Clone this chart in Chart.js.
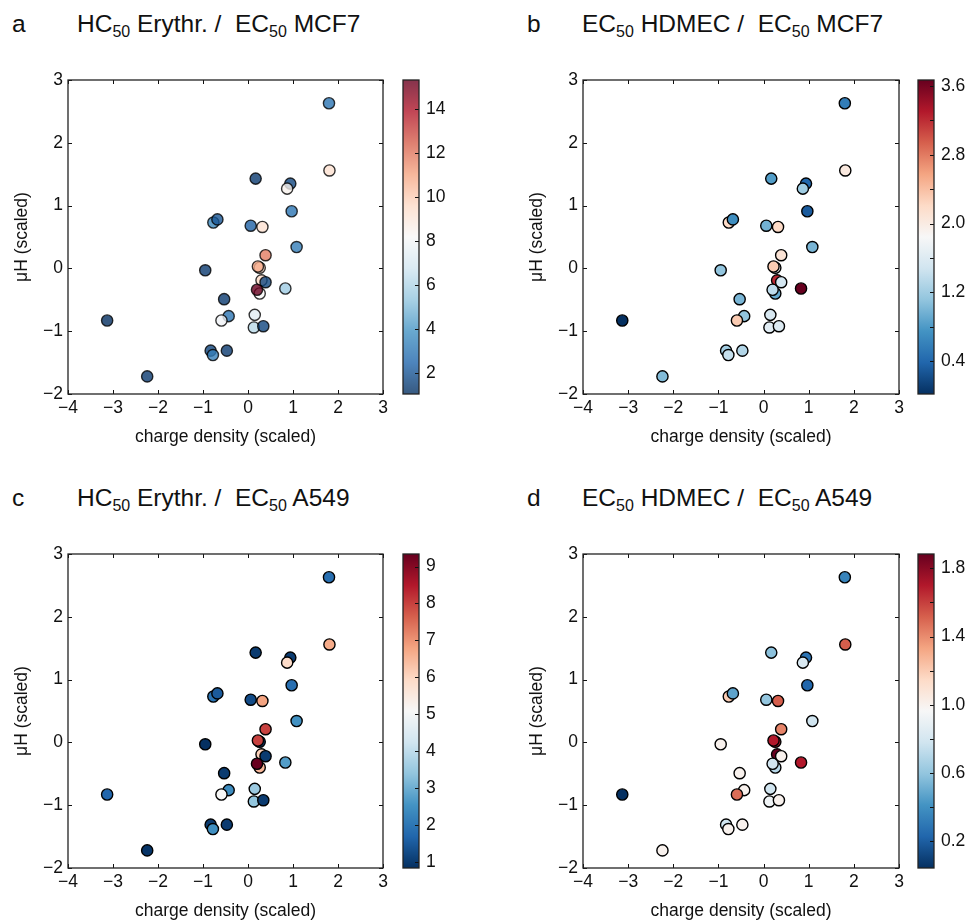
<!DOCTYPE html>
<html><head><meta charset="utf-8">
<script src="https://cdn.jsdelivr.net/npm/chart.js@4.4.1/dist/chart.umd.min.js"></script>
<style>
body{margin:0;background:#fff;width:971px;height:924px;position:relative;overflow:hidden;font-family:"Liberation Sans",Arial,sans-serif;color:#111}
canvas{position:absolute}
.t{position:absolute;font-size:24.5px;line-height:24px;white-space:pre}
.s{font-size:16px;position:relative;top:5px}
</style></head><body>
<div class="t" style="left:12px;top:12px">a</div>
<div class="t" style="left:77px;top:12px">HC<span class="s">50</span> Erythr. /  EC<span class="s">50</span> MCF7</div>
<div class="t" style="left:527px;top:12px">b</div>
<div class="t" style="left:582px;top:12px">EC<span class="s">50</span> HDMEC /  EC<span class="s">50</span> MCF7</div>
<div class="t" style="left:12px;top:486px">c</div>
<div class="t" style="left:77px;top:486px">HC<span class="s">50</span> Erythr. /  EC<span class="s">50</span> A549</div>
<div class="t" style="left:527px;top:486px">d</div>
<div class="t" style="left:582px;top:486px">EC<span class="s">50</span> HDMEC /  EC<span class="s">50</span> A549</div>

<canvas id="pa" width="400" height="400" style="left:0px;top:60px"></canvas>
<canvas id="ca" width="75" height="400" style="left:395px;top:60px"></canvas>
<canvas id="pb" width="400" height="400" style="left:515px;top:60px"></canvas>
<canvas id="cb" width="61" height="400" style="left:910px;top:60px"></canvas>
<canvas id="pc" width="400" height="400" style="left:0px;top:534px"></canvas>
<canvas id="cc" width="75" height="400" style="left:395px;top:534px"></canvas>
<canvas id="pd" width="400" height="400" style="left:515px;top:534px"></canvas>
<canvas id="cd" width="61" height="400" style="left:910px;top:534px"></canvas>

<script>
// ---- data ----
const xVals = [1.80, 1.81, 0.17, 0.94, 0.87, 0.97, -0.77, -0.68, 0.06, 0.32, 1.08, 0.39, 0.26, 0.22, -0.95, 0.30, 0.39, 0.83, 0.26, 0.20, -0.53, -0.43, -0.59, 0.15, 0.13, 0.34, -3.13, -0.83, -0.78, -0.47, -2.24];
const yVals = [2.63, 1.56, 1.43, 1.35, 1.27, 0.91, 0.73, 0.78, 0.68, 0.66, 0.34, 0.21, 0.01, 0.03, -0.03, -0.19, -0.22, -0.32, -0.40, -0.34, -0.49, -0.76, -0.83, -0.74, -0.94, -0.92, -0.83, -1.31, -1.38, -1.31, -1.72];
// HC50 Erythr. / EC50 MCF7
const ratioA = [2.9, 9.3, 1.3, 1.6, 8.5, 2.9, 3.5, 2.0, 2.3, 9.3, 3.2, 11.9, 9.6, 10.9, 1.3, 9.6, 1.6, 5.6, 8.2, 15.33, 1.3, 2.9, 7.9, 7.3, 6.2, 1.6, 1.03, 1.5, 3.3, 1.3, 1.3];
// EC50 HDMEC / EC50 MCF7
const ratioB = [0.57, 2.03, 0.82, 0.39, 1.19, 0.31, 2.21, 0.71, 0.97, 2.21, 1.00, 2.10, 1.85, 2.32, 1.12, 3.23, 1.52, 3.67, 0.90, 1.37, 1.00, 1.12, 2.32, 1.55, 1.63, 1.59, 0.02, 1.22, 1.41, 1.30, 1.04];
// HC50 Erythr. / EC50 A549
const ratioC = [1.85, 6.7, 1.0, 1.0, 5.9, 1.85, 1.94, 1.5, 1.26, 6.8, 2.5, 8.0, 1.0, 8.0, 0.83, 6.1, 1.0, 2.7, 6.5, 9.34, 1.0, 2.4, 5.1, 3.5, 3.4, 1.0, 1.7, 1.0, 2.45, 1.0, 0.9];
// EC50 HDMEC / EC50 A549
const ratioD = [0.35, 1.52, 0.58, 0.28, 0.82, 0.23, 1.20, 0.47, 0.60, 1.52, 0.78, 1.42, 1.70, 1.70, 1.00, 1.884, 1.00, 1.70, 0.70, 0.78, 1.00, 1.00, 1.48, 0.78, 0.93, 1.00, 0.042, 0.78, 1.00, 1.00, 1.00];

const xTicks = [-4, -3, -2, -1, 0, 1, 2, 3];
const yTicks = [-2, -1, 0, 1, 2, 3];
const rangeA = [1.03, 15.33], rangeB = [0.02, 3.67], rangeC = [0.83, 9.34], rangeD = [0.042, 1.884];
const cbTicksA = [2, 4, 6, 8, 10, 12, 14], cbLabelsA = [2, 4, 6, 8, 10, 12, 14];
const cbTicksB = [0.4, 0.8, 1.2, 1.6, 2.0, 2.4, 2.8, 3.2, 3.6], cbLabelsB = [0.4, 1.2, 2.0, 2.8, 3.6];
const cbTicksC = [1, 2, 3, 4, 5, 6, 7, 8, 9], cbLabelsC = [1, 2, 3, 4, 5, 6, 7, 8, 9];
const cbTicksD = [0.2, 0.4, 0.6, 0.8, 1.0, 1.2, 1.4, 1.6, 1.8], cbLabelsD = [0.2, 0.6, 1.0, 1.4, 1.8];

// ---- colormap (RdBu_r) ----
const RdBu_r = ['#053061','#2166ac','#4393c3','#92c5de','#d1e5f0','#f7f7f7','#fddbc7','#f4a582','#d6604d','#b2182b','#67001f'];
const stops = RdBu_r.map(h => [parseInt(h.slice(1,3),16), parseInt(h.slice(3,5),16), parseInt(h.slice(5,7),16)]);
function cmap(t, a) {
  t = Math.max(0, Math.min(1, t));
  const p = t * 10, i = Math.min(9, Math.floor(p)), f = p - i;
  const c = stops[i].map((v, k) => Math.round(v + (stops[i+1][k] - v) * f));
  return `rgba(${c[0]},${c[1]},${c[2]},${a})`;
}

const FONT = '"Liberation Sans", Arial, sans-serif';
const TXT = '#111';
const FS = 17.5;
const fmt = v => v < 0 ? '\u2212' + Math.abs(v) : String(v);

const framePlugin = {
  id: 'frame',
  afterDraw(chart) {
    const {ctx, chartArea: ca, scales: {x, y}} = chart;
    ctx.save();
    ctx.strokeStyle = '#111';
    ctx.lineWidth = 1;
    ctx.beginPath();
    x.ticks.forEach(t => {
      const px = Math.round(x.getPixelForValue(t.value)) + 0.5;
      ctx.moveTo(px, ca.bottom); ctx.lineTo(px, ca.bottom - 4);
      ctx.moveTo(px, ca.top); ctx.lineTo(px, ca.top + 4);
    });
    y.ticks.forEach(t => {
      const py = Math.round(y.getPixelForValue(t.value)) + 0.5;
      ctx.moveTo(ca.left, py); ctx.lineTo(ca.left + 4, py);
      ctx.moveTo(ca.right, py); ctx.lineTo(ca.right - 4, py);
    });
    ctx.stroke();
    ctx.lineWidth = 1.3;
    ctx.strokeStyle = '#222';
    ctx.strokeRect(ca.left, ca.top, ca.right - ca.left, ca.bottom - ca.top);
    ctx.restore();
  }
};

function makeScatter(id, vals, range, alpha, padRight) {
  new Chart(document.getElementById(id), {
    type: 'scatter',
    data: { datasets: [{
      data: xVals.map((x, i) => ({x, y: yVals[i]})),
      backgroundColor: vals.map(v => cmap((v - range[0]) / (range[1] - range[0]), alpha)),
      borderColor: `rgba(0,0,0,${alpha})`,
      borderWidth: 1.4, pointRadius: 5.6, pointHoverRadius: 5.6
    }]},
    options: {
      responsive: false, animation: false, devicePixelRatio: 1,
      layout: { padding: { left: 12, top: 20, right: padRight, bottom: 12 } },
      plugins: { legend: { display: false }, tooltip: { enabled: false } },
      scales: {
        x: {
          type: 'linear', min: -4, max: 3,
          afterBuildTicks(s) { s.ticks = xTicks.map(v => ({value: v})); },
          ticks: { color: TXT, font: { size: FS, family: FONT }, padding: 4, maxRotation: 0, autoSkip: false, callback: fmt },
          grid: { display: false, drawTicks: false }, border: { display: false },
          title: { display: true, text: 'charge density (scaled)', color: TXT, font: { size: FS, family: FONT }, padding: 0 },
          afterFit(s) { s.height = 54; }
        },
        y: {
          type: 'linear', min: -2, max: 3,
          afterBuildTicks(s) { s.ticks = yTicks.map(v => ({value: v})); },
          ticks: { color: TXT, font: { size: FS, family: FONT }, padding: 5, autoSkip: false, callback: fmt },
          grid: { display: false, drawTicks: false }, border: { display: false },
          title: { display: true, text: 'μH (scaled)', color: TXT, font: { size: FS, family: FONT }, padding: 0 },
          afterFit(s) { s.width = 56; }
        }
      }
    },
    plugins: [framePlugin]
  });
}

const cbarPlugin = {
  id: 'cbar',
  beforeDatasetsDraw(chart, args, opts) {
    const {ctx, chartArea: ca, scales: {y}} = chart;
    const g = ctx.createLinearGradient(0, y.getPixelForValue(opts.range[0]), 0, y.getPixelForValue(opts.range[1]));
    RdBu_r.forEach((c, i) => g.addColorStop(i / 10, c));
    ctx.save();
    ctx.globalAlpha = opts.alpha;
    ctx.fillStyle = g;
    ctx.fillRect(ca.left, ca.top, ca.right - ca.left, ca.bottom - ca.top);
    ctx.globalAlpha = 1;
    ctx.strokeStyle = '#111';
    ctx.lineWidth = 1;
    ctx.beginPath();
    y.ticks.forEach(t => {
      const py = Math.round(y.getPixelForValue(t.value)) + 0.5;
      ctx.moveTo(ca.right, py); ctx.lineTo(ca.right - 4, py);
    });
    ctx.stroke();
    ctx.lineWidth = 1.3;
    ctx.strokeStyle = '#222';
    ctx.strokeRect(ca.left, ca.top, ca.right - ca.left, ca.bottom - ca.top);
    ctx.restore();
  }
};

function makeCbar(id, range, tickVals, labelVals, dec, alpha, axisW) {
  new Chart(document.getElementById(id), {
    type: 'scatter',
    data: { datasets: [] },
    options: {
      responsive: false, animation: false, devicePixelRatio: 1,
      layout: { padding: { left: 8, top: 20, right: 0, bottom: 66 } },
      plugins: { legend: { display: false }, tooltip: { enabled: false }, cbar: { range, alpha } },
      scales: {
        x: { display: false, min: 0, max: 1 },
        y: {
          position: 'right', min: range[0], max: range[1],
          afterBuildTicks(s) { s.ticks = tickVals.map(v => ({value: v})); },
          ticks: { color: TXT, font: { size: FS, family: FONT }, padding: 7, autoSkip: false,
            callback: v => labelVals.some(l => Math.abs(l - v) < 1e-9) ? v.toFixed(dec) : '' },
          grid: { display: false, drawTicks: false }, border: { display: false },
          afterFit(s) { s.width = axisW; }
        }
      }
    },
    plugins: [cbarPlugin]
  });
}

makeScatter('pa', ratioA, rangeA, 0.8, 17);
makeScatter('pb', ratioB, rangeB, 1, 16);
makeScatter('pc', ratioC, rangeC, 1, 17);
makeScatter('pd', ratioD, rangeD, 1, 16);
makeCbar('ca', rangeA, cbTicksA, cbLabelsA, 0, 0.8, 51);
makeCbar('cb', rangeB, cbTicksB, cbLabelsB, 1, 1, 37);
makeCbar('cc', rangeC, cbTicksC, cbLabelsC, 0, 1, 51);
makeCbar('cd', rangeD, cbTicksD, cbLabelsD, 1, 1, 37);
</script>
</body></html>
